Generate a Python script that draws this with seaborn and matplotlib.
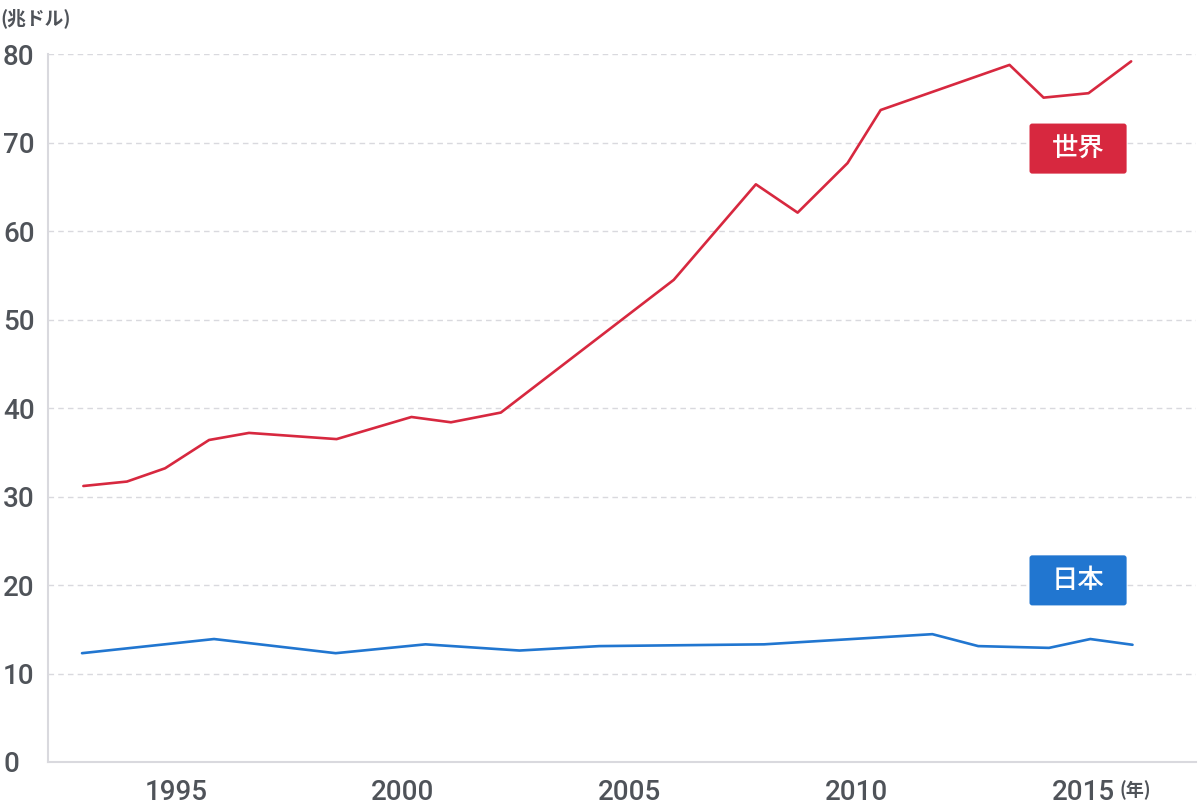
import matplotlib
matplotlib.use("Agg")
import matplotlib.pyplot as plt
import seaborn as sns
import pandas as pd
from matplotlib.patches import FancyBboxPatch

# ---- data ----
world_years = [1992.96, 1993.92, 1994.76, 1995.73, 1996.61, 1998.54, 2000.19, 2001.06,
               2002.16, 2005.97, 2007.78, 2008.70, 2009.80, 2010.53, 2013.37, 2014.12,
               2015.11, 2016.05]
world_values = [31.2, 31.7, 33.2, 36.4, 37.2, 36.5, 39.0, 38.4,
                39.5, 54.5, 65.3, 62.1, 67.7, 73.7, 78.8, 75.1,
                75.6, 79.2]
japan_years = [1992.93, 1995.84, 1998.52, 2000.50, 2002.57, 2004.33, 2007.96, 2011.67,
               2012.68, 2014.24, 2015.15, 2016.08]
japan_values = [12.3, 13.9, 12.3, 13.3, 12.6, 13.1, 13.3, 14.45,
                13.1, 12.9, 13.9, 13.25]
series_names = ["世界", "日本"]
series_colors = ["#d7283f", "#2176d0"]
x_ticks = [1995, 2000, 2005, 2010, 2015]
y_ticks = [0, 10, 20, 30, 40, 50, 60, 70, 80]
y_unit = "(兆ドル)"
x_unit = "(年)"

df = pd.concat([
    pd.DataFrame({"year": world_years, "value": world_values, "series": series_names[0]}),
    pd.DataFrame({"year": japan_years, "value": japan_values, "series": series_names[1]}),
])

sns.set_theme(style="white")
plt.rcParams["font.family"] = ["Roboto", "Noto Sans CJK JP", "DejaVu Sans"]

fig = plt.figure(figsize=(12, 8.09), dpi=100)
ax = fig.add_axes([0.0396, 0.0581, 0.9571, 0.8748])

sns.lineplot(data=df, x="year", y="value", hue="series",
             palette=dict(zip(series_names, series_colors)),
             linewidth=1.9, legend=False, ax=ax, estimator=None, sort=True)

ax.set_xlim(1992.17, 2017.48)
ax.set_ylim(0, 80)
ax.set_xticks(x_ticks)
ax.set_yticks(y_ticks)
ax.set_xlabel("")
ax.set_ylabel("")

tick_color = "#4f5359"
grid_color = "#d9d9de"
ax.set_xticklabels([str(t) for t in x_ticks], fontsize=20, color=tick_color, fontweight="medium")
ax.set_yticklabels([str(t) for t in y_ticks], fontsize=20, color=tick_color, fontweight="medium")
for lab in ax.get_yticklabels():
    lab.set_horizontalalignment("left")
ax.tick_params(axis="y", length=0, pad=32)
ax.tick_params(axis="x", direction="in", length=8, width=1.2, color=grid_color, pad=12)

for y in y_ticks[1:]:
    ax.axhline(y, color=grid_color, linewidth=1, linestyle=(0, (4, 3)), zorder=0)

for side in ["top", "right"]:
    ax.spines[side].set_visible(False)
for side in ["left", "bottom"]:
    ax.spines[side].set_color(grid_color)
    ax.spines[side].set_linewidth(1.5)

# series labels (boxes)
box_x0, box_w = 2013.81, 2.14
box_h = 5.66
for name, color, yc in [(series_names[0], series_colors[0], 69.34),
                        (series_names[1], series_colors[1], 20.53)]:
    patch = FancyBboxPatch((box_x0, yc - box_h / 2), box_w, box_h,
                           boxstyle="round,pad=0,rounding_size=0.06",
                           mutation_aspect=5.1, facecolor=color, edgecolor="none",
                           zorder=5)
    ax.add_patch(patch)
    ax.text(box_x0 + box_w / 2, yc, name, ha="center", va="center", color="white",
            fontsize=19, fontweight="medium", family=["Noto Sans CJK JP", "DejaVu Sans"],
            zorder=6)

fig.text(0.0, 0.977, y_unit, ha="left", va="center", fontsize=13.5, color="#4f5359",
         fontweight="bold", family=["Noto Sans CJK JP", "DejaVu Sans"])
fig.text(0.933, 0.023, x_unit, ha="left", va="center", fontsize=13, color="#4f5359",
         fontweight="bold", family=["Noto Sans CJK JP", "DejaVu Sans"])

fig.savefig("out.png", dpi=100, facecolor="white")
